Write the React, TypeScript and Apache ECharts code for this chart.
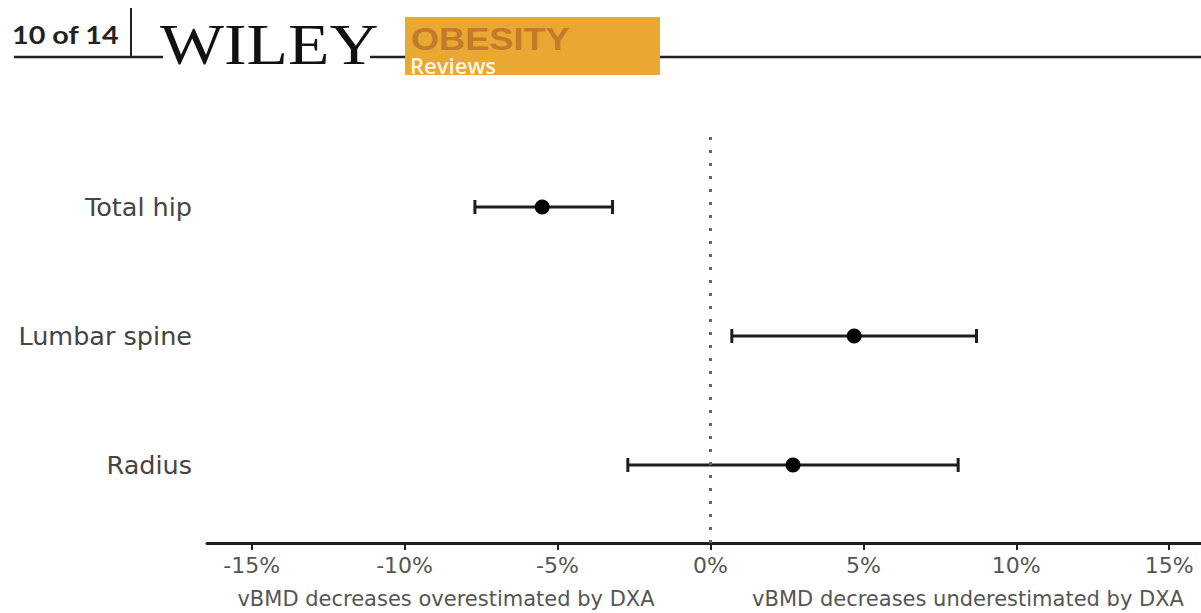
import React, { useEffect, useRef } from "react";
import * as echarts from "echarts";

const sites = ["Radius", "Lumbar spine", "Total hip"];
const sitePos = [1, 2, 3];
const means = [2.7, 4.7, -5.5];
const lowerCI = [-2.7, 0.7, -7.7];
const upperCI = [8.1, 8.7, -3.2];
const xTicks = [-15, -10, -5, 0, 5, 10, 15];
const leftNote = "vBMD decreases overestimated by DXA";
const rightNote = "vBMD decreases underestimated by DXA";

export default function App() {
  const ref = useRef<HTMLDivElement>(null);
  useEffect(() => {
    if (!ref.current) return;
    const chart = echarts.init(ref.current, null, { renderer: "svg" });
    const errData = sites.map((_, i) => [lowerCI[i], upperCI[i], sitePos[i]]);
    const pointData = sites.map((_, i) => [means[i], sitePos[i]]);
    chart.setOption({
      animation: false,
      backgroundColor: "#ffffff",
      grid: { left: 207, right: 0, top: 130, bottom: 70, containLabel: false },
      xAxis: {
        type: "value",
        min: -16.46,
        max: 16.04,
        axisLine: { show: true, lineStyle: { color: "#1e1e1e", width: 3 } },
        axisTick: { show: true, customValues: xTicks, length: 7, lineStyle: { color: "#1e1e1e", width: 2 } },
        axisLabel: {
          customValues: xTicks,
          formatter: (v: number) => `${v}%`,
          fontFamily: "DejaVu Sans",
          fontSize: 22,
          color: "#555",
          margin: 11,
        },
        splitLine: { show: false },
      },
      yAxis: {
        type: "value",
        min: 0.395,
        max: 3.597,
        axisLine: { show: false },
        axisTick: { show: false },
        splitLine: { show: false },
        axisLabel: {
          customValues: sitePos,
          formatter: (v: number) => sites[sitePos.indexOf(v)] ?? "",
          fontFamily: "DejaVu Sans",
          fontSize: 25.5,
          color: "#444",
          margin: 15,
        },
      },
      series: [
        {
          type: "custom",
          data: errData,
          encode: { x: [0, 1], y: 2 },
          renderItem: (params: any, api: any) => {
            const y = api.value(2);
            const p1 = api.coord([api.value(0), y]);
            const p2 = api.coord([api.value(1), y]);
            const h = 7;
            const st = { stroke: "#1e1e1e", lineWidth: 3 };
            return {
              type: "group",
              children: [
                { type: "line", shape: { x1: p1[0], y1: p1[1], x2: p2[0], y2: p2[1] }, style: st },
                { type: "line", shape: { x1: p1[0], y1: p1[1] - h, x2: p1[0], y2: p1[1] + h }, style: st },
                { type: "line", shape: { x1: p2[0], y1: p2[1] - h, x2: p2[0], y2: p2[1] + h }, style: st },
              ],
            };
          },
          z: 3,
        },
        {
          type: "scatter",
          data: pointData,
          symbol: "circle",
          symbolSize: 15,
          itemStyle: { color: "#000", opacity: 1 },
          z: 4,
          markLine: {
            silent: true,
            symbol: ["none", "none"],
            label: { show: false },
            lineStyle: { type: [3, 10], width: 3, color: "#666" },
            data: [{ xAxis: 0 }],
          },
        },
      ],
      graphic: [
        { type: "line", shape: { x1: 14, y1: 57, x2: 163, y2: 57 }, style: { stroke: "#222", lineWidth: 2.5 } },
        { type: "line", shape: { x1: 131, y1: 8, x2: 131, y2: 57 }, style: { stroke: "#222", lineWidth: 2 } },
        {
          type: "text",
          x: 12,
          y: 47,
          scaleX: 1.15,
          style: { text: "10 of 14", font: "bold 25px Lato", fill: "#222", textVerticalAlign: "bottom" },
        },
        {
          type: "text",
          x: 160,
          y: 73,
          scaleX: 1.19,
          style: { text: "WILEY", font: "57px 'Liberation Serif'", fill: "#111", textVerticalAlign: "bottom" },
        },
        { type: "line", shape: { x1: 370, y1: 57, x2: 406, y2: 57 }, style: { stroke: "#222", lineWidth: 2.5 } },
        { type: "rect", shape: { x: 405, y: 17, width: 255, height: 58 }, style: { fill: "#E8A832" } },
        {
          type: "text",
          x: 411,
          y: 55,
          scaleX: 1.13,
          style: { text: "OBESITY", font: "bold 32px 'Liberation Sans'", fill: "#C27A2C", textVerticalAlign: "bottom" },
        },
        {
          type: "text",
          x: 410,
          y: 76,
          scaleX: 1.05,
          style: { text: "Reviews", font: "600 21px 'Open Sans'", fill: "#FFF6E6", textVerticalAlign: "bottom" },
        },
        { type: "line", shape: { x1: 660, y1: 57, x2: 1201, y2: 57 }, style: { stroke: "#222", lineWidth: 2.5 } },
        {
          type: "text",
          x: 446,
          y: 599,
          style: { text: leftNote, font: "21px 'DejaVu Sans'", fill: "#555", textAlign: "center", textVerticalAlign: "middle" },
        },
        {
          type: "text",
          x: 968,
          y: 599,
          style: { text: rightNote, font: "21px 'DejaVu Sans'", fill: "#555", textAlign: "center", textVerticalAlign: "middle" },
        },
      ],
    });
    return () => chart.dispose();
  }, []);
  return <div ref={ref} style={{ position: "fixed", left: 0, top: 0, width: 1201, height: 613 }} />;
}
